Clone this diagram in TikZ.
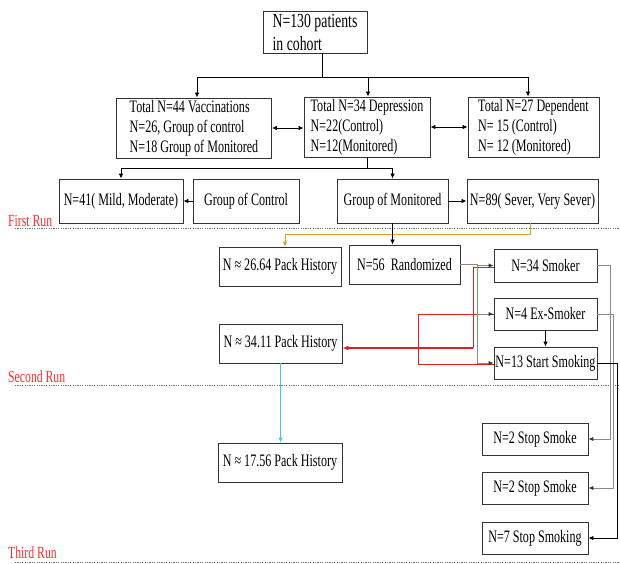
\documentclass[tikz,border=0pt]{standalone}
\usepackage{fontspec}
\setmainfont[FakeStretch=0.69]{Liberation Serif}
\usetikzlibrary{arrows.meta}
\definecolor{runred}{HTML}{FF2A2A}
\definecolor{linkred}{HTML}{E02020}
\definecolor{goldline}{HTML}{D9A41E}
\definecolor{skyline}{HTML}{3CC8F5}
\definecolor{boxline}{HTML}{333333}
\definecolor{greyline}{HTML}{8A8A8A}
\definecolor{dotgrey}{HTML}{707070}
\begin{document}
\begin{tikzpicture}[x=1pt,y=-1pt,
  box/.style={draw=boxline, line width=0.9pt, inner sep=1pt, font=\fontsize{17.5}{20}\selectfont},
  conn/.style={line width=0.8pt, draw=black},
  greyconn/.style={line width=1pt, draw=greyline},
  redconn/.style={line width=0.9pt, draw=linkred},
  tip/.style={-{Latex[length=5pt,width=4.5pt]}},
  dtip/.style={-{Latex[length=5pt,width=4.5pt,color=black!80]}},
  biarrow/.style={{Latex[length=5pt,width=4.5pt]}-{Latex[length=5pt,width=4.5pt]}},
  dotline/.style={draw=dotgrey, line width=0.8pt, dash pattern=on 1.2pt off 1.2pt},
  runlabel/.style={text=runred, inner sep=0pt, font=\fontsize{17}{19}\selectfont}
]
\useasboundingbox (0,0) rectangle (620,563);

% nodes
\node[box, minimum width=104pt, minimum height=42pt, align=left, font=\fontsize{20}{23}\selectfont] (top) at (315,32) {N=130 patients\\ in cohort};

\node[box, minimum width=155pt, minimum height=60pt, align=left] (vacc) at (194,128) {Total N=44 Vaccinations\\N=26, Group of control\\N=18 Group of Monitored};
\node[box, minimum width=126pt, minimum height=60pt, align=left] (depr) at (367,127) {Total N=34 Depression\\N=22(Control)\\N=12(Monitored)};
\node[box, minimum width=131pt, minimum height=60pt, align=left] (depd) at (533.5,127) {Total N=27 Dependent\\N= 15 (Control)\\N= 12 (Monitored)};

\node[box, minimum width=124pt, minimum height=44pt] (mild) at (121,201) {N=41( Mild, Moderate)};
\node[box, minimum width=106pt, minimum height=44pt] (gctrl) at (246,201) {Group of Control};
\node[box, minimum width=111pt, minimum height=44pt] (gmon) at (392.5,201) {Group of Monitored};
\node[box, minimum width=131pt, minimum height=44pt] (sev) at (532.5,201) {N=89( Sever, Very Sever)};

\node[box, minimum width=122pt, minimum height=39pt] (p26) at (280,266.5) {N ≈ 26.64 Pack History};
\node[box, minimum width=111pt, minimum height=39pt] (rand) at (404.5,264.5) {N=56\ \ Randomized};
\node[box, minimum width=103pt, minimum height=33pt] (smk) at (545.5,265.5) {N=34 Smoker};
\node[box, minimum width=103pt, minimum height=32pt] (exs) at (545.5,314) {N=4 Ex-Smoker};
\node[box, minimum width=103pt, minimum height=32pt] (sts) at (545.5,363) {N=13 Start Smoking};
\node[box, minimum width=123pt, minimum height=39pt] (p34) at (280.5,343.5) {N ≈ 34.11 Pack History};
\node[box, minimum width=124pt, minimum height=39pt] (p17) at (280,462.5) {N ≈ 17.56 Pack History};
\node[box, minimum width=106pt, minimum height=32pt] (ss1) at (535,439) {N=2 Stop Smoke};
\node[box, minimum width=106pt, minimum height=32pt] (ss2) at (535,488) {N=2 Stop Smoke};
\node[box, minimum width=106pt, minimum height=32pt] (ss7) at (535,538) {N=7 Stop Smoking};

% run labels and dotted lines
\node[runlabel, anchor=base west] (fr) at (8,226) {First Run};
\node[runlabel, anchor=base west] (sr) at (8,382) {Second Run};
\node[runlabel, anchor=base west] (tr) at (8,558) {Third Run};
\coordinate (d1a) at (15,228.5); \coordinate (d1b) at (620,228.5);
\coordinate (d2a) at (15,385.5); \coordinate (d2b) at (620,385.5);
\coordinate (d3a) at (15,562); \coordinate (d3b) at (620,562);
\draw[dotline] (d1a) -- (d1b);
\draw[dotline] (d2a) -- (d2b);
\draw[dotline] (d3a) -- (d3b);

% top split
\coordinate (j1) at (322,77);
\draw[conn] (top.south -| j1) -- (j1);
\draw[conn,tip] (j1) -| ([xshift=3pt]vacc.north);
\draw[conn,tip] (j1) -| ([xshift=1pt]depr.north);
\draw[conn,tip] (j1) -| ([xshift=-5.5pt]depd.north);

% bidirectional
\draw[conn,biarrow] (vacc.east) -- (vacc.east -| depr.west);
\draw[conn,biarrow] (depr.east) -- (depr.east -| depd.west);

% depression split
\coordinate (j2) at (367,168);
\draw[conn] (depr.south) -- (j2);
\draw[conn,tip] (j2) -| (mild.north);
\draw[conn,tip] (j2) -| (gmon.north);

\draw[conn,tip] (gctrl.west) -- (mild.east);
\draw[conn,tip] (gmon.east) -- (sev.west);

% orange
\coordinate (j3) at (530,234);
\draw[line width=0.9pt, draw=goldline, -{Latex[length=5pt,width=4.5pt]}] (sev.south -| j3) -- (j3) -| ([xshift=5pt]p26.north);

% monitored to randomized
\draw[conn,tip] (gmon.south) -- (gmon.south |- rand.north);

% red links
\coordinate (r1) at (473,267);
\coordinate (r2) at (473,348);
\draw[redconn] (smk.west |- r1) -- (r1) -- (r2);
\draw[redconn,line width=1.2pt,-{Latex[length=6pt,width=5pt]}] (r2) -- (p34.east |- r2);
\coordinate (r3) at (418,314);
\coordinate (r4) at (418,364);
\draw[redconn] (exs.west) -- (r3) -- (r4) -- (sts.west |- r4);

% grey split from randomized
\coordinate (j4) at (477,264.5);
\coordinate (j5) at (477,363);
\draw[greyconn] (rand.east) -- (j4) -- (j5);
\draw[greyconn,dtip] (j4 |- smk.west) -- (smk.west);
\draw[greyconn,dtip] (j4 |- exs.west) -- (exs.west);
\draw[greyconn,dtip] (j5) -- (sts.west);

\draw[conn,tip] (exs.south) -- (sts.north);

% right side to stop boxes
\draw[greyconn,dtip] (smk.east) -- ++(13,0) |- (ss1.east);
\draw[greyconn,dtip] (exs.east) -- ++(16,0) |- (ss2.east);
\draw[conn,tip] (sts.east) -- ++(20,0) |- (ss7.east);

% blue
\draw[line width=0.9pt, draw=skyline, -{Latex[length=5pt,width=4.5pt]}] (p34.south) -- (p34.south |- p17.north);
\end{tikzpicture}
\end{document}
